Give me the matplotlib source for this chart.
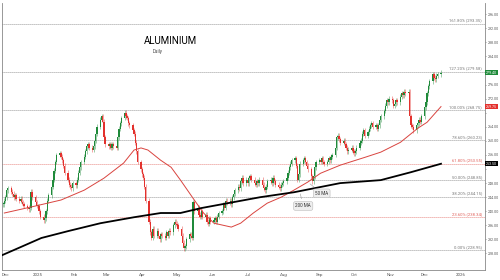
import matplotlib
matplotlib.use('Agg')
import matplotlib.pyplot as plt
import matplotlib.dates as mdates
import numpy as np
import pandas as pd

plt.rcParams['font.family'] = ['Roboto', 'DejaVu Sans']

# daily closes, one list per month (business days)
close_dec24 = [242, 243, 244, 246, 246.5, 245.5, 245, 244, 244.5, 243.5, 243, 243.5,
               242.5, 242, 241.5, 241, 240.5, 241, 245.5, 244, 242.5, 241.5]
close_jan25 = [241.5, 240, 238.5, 237.5, 238, 240, 243, 244.5, 247, 249, 251.5, 254,
               256, 256.5, 255.5, 254.5, 253, 251, 249, 247.5, 247, 246.5, 248]
close_feb25 = [247.4, 249, 251, 252.5, 254, 255.5, 257, 258.5, 259, 258,
               257.5, 258.5, 260, 262, 264, 266, 267, 265.5, 261, 259]
close_mar25 = [258.5, 259, 258, 259, 258.5, 258, 261, 263.5, 265, 266.5, 268,
               267, 266.5, 265, 264.5, 263, 262, 259.5, 257, 254, 252]
close_apr25 = [250.5, 249.5, 247, 243, 237, 234, 232.5, 235, 233, 234.5, 233,
               232, 233.5, 233, 232.5, 234, 233, 234.5, 234, 236, 237, 236.5]
close_may25 = [236, 235, 233, 231, 229.5, 230, 232, 233.5, 233, 232.5, 242.5,
               240, 241, 239, 238.5, 240, 238.5, 239, 237, 236.5, 238, 237]
close_jun25 = [237.5, 238, 237, 238.5, 239.5, 240, 242, 241, 243, 242.5, 243,
               242, 244, 245, 246, 247, 246.5, 248.5, 249.5, 248, 249]
close_jul25 = [248, 249.5, 250, 249, 248, 247.5, 248.5, 248, 249, 247.5, 246.5, 246,
               247, 248.5, 249, 248, 249.5, 248.5, 247.5, 247, 246.5, 247.5, 248]
close_aug25 = [248.5, 249.5, 251, 252.5, 253.5, 254.5, 255, 253, 249, 250.5, 253.5,
               254.5, 255, 254, 253, 252, 250, 248.5, 250, 252.5, 254]
close_sep25 = [254.5, 254, 255, 254, 253.5, 254, 255, 254.5, 255.5, 256, 258,
               261, 261.5, 260.5, 259.5, 260, 259, 258, 257, 257.5, 258, 257]
close_oct25 = [256.5, 257, 258, 259.5, 260, 262, 263, 261.5, 262.5, 263.5, 264.5, 265,
               264, 264.5, 263.5, 264.5, 266, 267, 268.5, 270, 271.5, 271, 272]
close_nov25 = [271.5, 270, 270.5, 271.5, 271, 272.5, 273.5, 273, 274, 273.5,
               274, 267, 264.5, 264, 263, 264.5, 265, 266, 265.5, 267]
close_dec25 = [269.5, 271, 273.5, 275.5, 277, 279, 278, 277.5, 278.5, 279, 279.4]

months = ['2024-12', '2025-01', '2025-02', '2025-03', '2025-04', '2025-05', '2025-06',
          '2025-07', '2025-08', '2025-09', '2025-10', '2025-11', '2025-12']
month_closes = [close_dec24, close_jan25, close_feb25, close_mar25, close_apr25,
                close_may25, close_jun25, close_jul25, close_aug25, close_sep25,
                close_oct25, close_nov25, close_dec25]

# moving averages
ma50_dates = ['2024-12-03', '2024-12-26', '2025-01-21', '2025-02-10', '2025-02-27',
              '2025-03-16', '2025-03-25', '2025-03-31', '2025-04-06', '2025-04-17',
              '2025-04-26', '2025-05-04', '2025-05-16', '2025-05-24', '2025-06-02',
              '2025-06-17', '2025-06-25', '2025-07-06', '2025-07-18', '2025-07-30',
              '2025-08-10', '2025-08-22', '2025-09-02', '2025-09-19', '2025-10-11',
              '2025-10-24', '2025-11-10', '2025-11-25', '2025-12-03', '2025-12-15']
ma50_vals = [239.5, 241.2, 243.2, 246.0, 249.4, 253.7, 257.4, 258.0, 257.4, 254.5,
             252.5, 248.9, 243.2, 239.5, 236.6, 235.5, 236.6, 239.5, 242.3, 244.0,
             246.0, 248.3, 250.8, 253.1, 255.4, 256.8, 259.6, 263.6, 265.3, 269.75]

ma200_dates = ['2024-12-01', '2024-12-17', '2025-01-04', '2025-01-27', '2025-02-24',
               '2025-03-25', '2025-04-17', '2025-05-04', '2025-05-22', '2025-06-14',
               '2025-07-12', '2025-08-10', '2025-09-19', '2025-10-24', '2025-11-19',
               '2025-12-15']
ma200_vals = [227.5, 229.8, 232.4, 234.35, 236.6, 238.3, 239.5, 239.5, 240.9, 242.3,
              244.0, 245.4, 248.0, 248.85, 251.1, 253.5]

fib_pcts = ['161.80%', '127.20%', '100.00%', '78.60%', '61.80%', '50.00%', '38.20%',
            '23.60%', '0.00%']
fib_vals = [293.35, 279.58, 268.75, 260.23, 253.55, 248.85, 244.15, 238.34, 228.95]
fib_red = ['61.80%', '23.60%']

yticks = np.arange(228, 297, 4)
last_price = 279.40
ma50_last = 269.75
ma200_last = 253.50

# ---- build candles
dates, closes = [], []
for m, vals in zip(months, month_closes):
    start = pd.Timestamp(m + '-01')
    days = pd.bdate_range(start, start + pd.offsets.MonthEnd(0))
    dates += list(days[:len(vals)])
    closes += vals
closes = np.array(closes)
opens = np.r_[closes[0], closes[:-1]]
x = mdates.date2num(dates)
wick = 0.7
highs = np.maximum(opens, closes) + wick
lows = np.minimum(opens, closes) - wick

GREEN = '#1f8a3a'
RED = '#e3312d'

fig = plt.figure(figsize=(5, 2.8), dpi=100)
ax = fig.add_axes([2 / 500, 10 / 280, 483 / 500, 267 / 280])

up = closes >= opens
cols = np.where(up, GREEN, RED)
ax.vlines(x, lows, highs, colors=cols, linewidth=0.5, alpha=0.6, zorder=3)
body = np.abs(closes - opens)
body = np.maximum(body, 0.3)
ax.bar(x, body, bottom=np.minimum(opens, closes), width=1.1, color=cols,
       linewidth=0, zorder=4)

# moving averages
m50x = mdates.date2num(pd.to_datetime(ma50_dates))
m200x = mdates.date2num(pd.to_datetime(ma200_dates))
ax.plot(m50x, ma50_vals, color='#d9443f', lw=0.7, zorder=5)
ax.plot(m200x, ma200_vals, color='black', lw=1.3, zorder=5)

# fibonacci levels
for p, v in zip(fib_pcts, fib_vals):
    c = '#e0605a' if p in fib_red else '#777777'
    ax.axhline(v, color=c, lw=0.6, dashes=(1, 1.4), zorder=1)
    ax.text(0.994, v + 0.4, f'{p} ({v:.2f})', transform=ax.get_yaxis_transform(),
            ha='right', va='bottom', fontsize=3.0, color=c)

xmin = mdates.date2num(pd.Timestamp('2024-12-01'))
xmax = mdates.date2num(pd.Timestamp('2026-01-22'))
ax.set_xlim(xmin, xmax)
ax.set_ylim(223.3, 299.2)

# axes styling
highlighted = [last_price, ma50_last, ma200_last]
ax.yaxis.tick_right()
ax.set_yticks(yticks)
ax.set_yticklabels(['' if min(abs(t - h) for h in highlighted) < 2 else f'{t:.2f}'
                    for t in yticks])
ax.tick_params(axis='y', labelsize=2.6, colors='#555555', length=1.0, width=0.4, pad=0.8)
ax.tick_params(axis='x', labelsize=3.2, colors='#555555', length=0, pad=2.5)

xt = pd.date_range('2024-12-01', '2026-01-01', freq='MS')
ax.set_xticks(mdates.date2num(xt))
ax.set_xticklabels([str(d.year) if d.month == 1 else d.strftime('%b') for d in xt])
ax.get_xticklabels()[0].set_horizontalalignment('left')

ax.spines['top'].set_visible(False)
for s in ['left', 'right', 'bottom']:
    ax.spines[s].set_color('#888888')
    ax.spines[s].set_linewidth(0.6)

# current values on the price scale
for v, fc in zip(highlighted, [GREEN, RED, 'black']):
    ax.text(1.002, v, f'{v:.2f}', transform=ax.get_yaxis_transform(), ha='left',
            va='center', fontsize=2.6, color='white', zorder=10, clip_on=False,
            bbox=dict(boxstyle='square,pad=0.2', fc=fc, ec='none'))

# title
fig.text(170 / 500, 1 - 41 / 280, 'ALUMINIUM', fontsize=7, ha='center', va='center')
fig.text(153 / 500, 1 - 51 / 280, 'Daily', fontsize=3.3, color='#444444', va='center')

# MA callouts
box = dict(boxstyle='round,pad=0.4', fc='#eeeeee', ec='#bbbbbb', lw=0.4)
a50 = mdates.date2num(pd.Timestamp('2025-08-22'))
ax.annotate('50 MA', xy=(a50, np.interp(a50, m50x, ma50_vals)),
            xytext=(mdates.date2num(pd.Timestamp('2025-09-03')), 245.1),
            fontsize=3.3, color='#333333', ha='center', va='center', bbox=box,
            arrowprops=dict(arrowstyle='-', color='#999999', lw=0.4), zorder=8)
a200 = mdates.date2num(pd.Timestamp('2025-08-15'))
ax.annotate('200 MA', xy=(a200, np.interp(a200, m200x, ma200_vals)),
            xytext=(mdates.date2num(pd.Timestamp('2025-08-18')), 241.5),
            fontsize=3.3, color='#333333', ha='center', va='center', bbox=box,
            arrowprops=dict(arrowstyle='-', color='#999999', lw=0.4), zorder=8)

fig.savefig('out.png', dpi=100)
